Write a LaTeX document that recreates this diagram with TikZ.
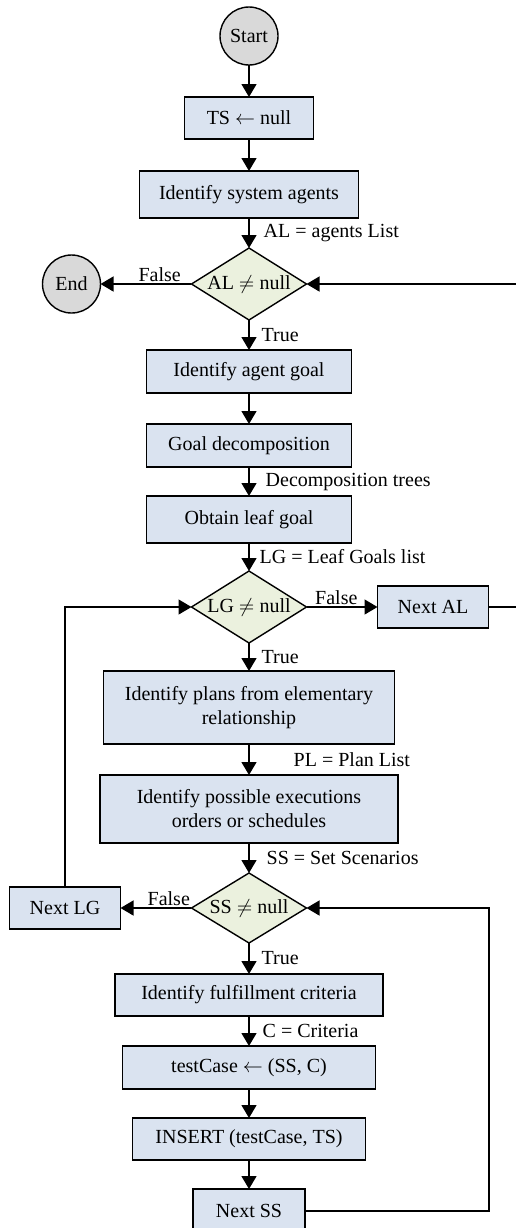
\documentclass[tikz,border=0pt]{standalone}
\usepackage{fontspec}
\setmainfont{Liberation Serif}
\usetikzlibrary{positioning,arrows.meta,shapes.geometric}

\definecolor{procblue}{RGB}{218,227,240}
\definecolor{condgreen}{RGB}{235,241,222}
\definecolor{termgray}{RGB}{217,217,217}

\tikzset{
  proc/.style={draw, fill=procblue, minimum height=21.5pt, inner sep=2pt, outer sep=0pt, align=center},
  cond/.style={diamond, aspect=1.6, draw, fill=condgreen, minimum width=57.5pt, minimum height=36pt, inner sep=0pt, outer sep=0pt},
  term/.style={circle, draw, fill=termgray, minimum size=29pt, inner sep=0pt, outer sep=0pt},
  lbl/.style={inner sep=1pt},
}

\begin{document}
\begin{tikzpicture}[>={Triangle[length=6.5pt,width=7.5pt]}, node distance=15pt, line width=0.7pt]
  \useasboundingbox (0,0) rectangle (257.5pt,-614pt);
  % main column, top to bottom
  \node[term] (start) at (124.5pt,-18pt) {Start};
  \node[proc, minimum width=64.5pt, minimum height=21pt, below=16pt of start] (tsnull) {TS $\leftarrow$ null};
  \node[proc, minimum width=109.5pt, minimum height=23.5pt, below=16pt of tsnull] (agents) {Identify system agents};
  \node[cond, below=of agents] (alnull) {AL $\neq$ null};
  \node[proc, minimum width=102.5pt, below=of alnull] (agentgoal) {Identify agent goal};
  \node[proc, minimum width=102.5pt, below=15.5pt of agentgoal] (goaldec) {Goal decomposition};
  \node[proc, minimum width=102.5pt, minimum height=23.5pt, below=14.5pt of goaldec] (leafgoal) {Obtain leaf goal};
  \node[cond, below=14pt of leafgoal] (lgnull) {LG $\neq$ null};
  \node[proc, minimum width=145.5pt, minimum height=36.5pt, below=14pt of lgnull] (plans) {Identify plans from elementary\\relationship};
  \node[proc, minimum width=149pt, minimum height=34pt, below=15.5pt of plans] (orders) {Identify possible executions\\orders or schedules};
  \node[cond, minimum height=35pt, below=of orders] (ssnull) {SS $\neq$ null};
  \node[proc, minimum width=134pt, minimum height=21pt, below=15.5pt of ssnull] (criteria) {Identify fulfillment criteria};
  \node[proc, minimum width=126.5pt, below=of criteria] (testcase) {testCase $\leftarrow$ (SS, C)};
  \node[proc, minimum width=116.5pt, minimum height=21pt, below=14.5pt of testcase] (insert) {INSERT (testCase, TS)};
  \node[proc, minimum width=56pt, minimum height=22pt, below=14.5pt of insert] (nextss) {Next SS};
  % side nodes
  \node[term, left=45.5pt of alnull] (stop) {End};
  \node[proc, minimum width=55.5pt, minimum height=21pt, right=35.5pt of lgnull] (nextal) {Next AL};
  \node[proc, minimum width=55.5pt, minimum height=21pt, left=35.5pt of ssnull] (nextlg) {Next LG};
  \coordinate (alret) at (262pt,0 |- alnull.east);
  \coordinate (ssret) at (244.5pt,0 |- ssnull.east);
  % flow
  \draw[->] (start) -- (tsnull);
  \draw[->] (tsnull) -- (agents);
  \draw[->] (agents) -- node[lbl, right=6pt] {AL = agents List} (alnull);
  \draw[->] (alnull) -- node[lbl, above, pos=0.35] {False} (stop);
  \draw[->] (alnull) -- node[lbl, right=5pt] {True} (agentgoal);
  \draw[->] (agentgoal) -- (goaldec);
  \draw[->] (goaldec) -- node[lbl, right=7pt] {Decomposition trees} (leafgoal);
  \draw[->] (leafgoal) -- node[lbl, right=4pt] {LG = Leaf Goals list} (lgnull);
  \draw[->] (lgnull) -- node[lbl, above, pos=0.42] {False} (nextal);
  \draw[->] (lgnull) -- node[lbl, right=5pt] {True} (plans);
  \draw[->] (plans) -- node[lbl, right=21pt] {PL = Plan List} (orders);
  \draw[->] (orders) -- node[lbl, right=7.5pt] {SS = Set Scenarios} (ssnull);
  \draw[->] (ssnull) -- node[lbl, above, pos=0.32] {False} (nextlg);
  \draw[->] (ssnull) -- node[lbl, right=5pt] {True} (criteria);
  \draw[->] (criteria) -- node[lbl, right=5.5pt] {C = Criteria} (testcase);
  \draw[->] (testcase) -- (insert);
  \draw[->] (insert) -- (nextss);
  % loops back
  \draw[->] (nextal.east) -| (alret) -- (alnull.east);
  \draw[->] (nextlg.north) |- (lgnull.west);
  \draw[->] (nextss.east) -| (ssret) -- (ssnull.east);
\end{tikzpicture}
\end{document}
